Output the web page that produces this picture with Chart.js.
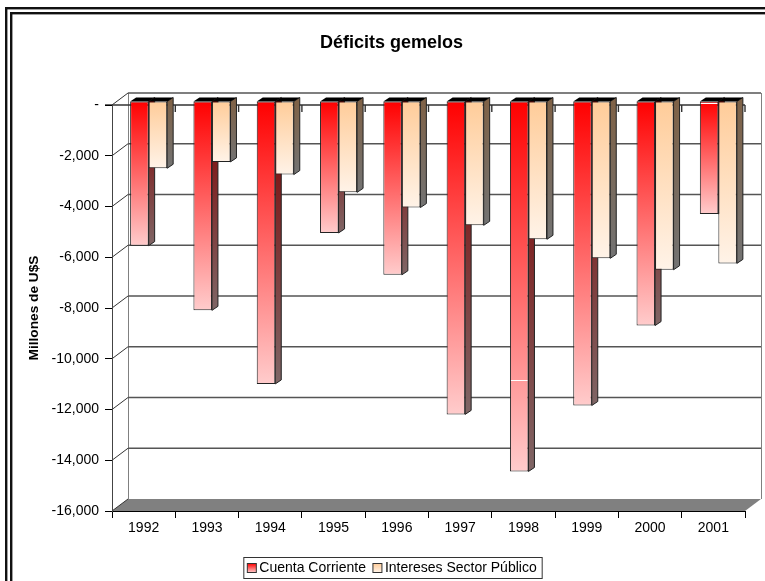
<!DOCTYPE html>
<html>
<head>
<meta charset="utf-8">
<title>Déficits gemelos</title>
<script src="https://cdn.jsdelivr.net/npm/chart.js@4"></script>
<style>
  html, body { margin: 0; padding: 0; background: #fff; }
  canvas { display: block; }
</style>
</head>
<body>
<canvas id="chart" width="765" height="581"></canvas>
<script>
const years = ['1992', '1993', '1994', '1995', '1996', '1997', '1998', '1999', '2000', '2001'];
const cuentaCorriente = [-5700, -8250, -11150, -5200, -6850, -12350, -14600, -12000, -8850, -4450];
const interesesPublico = [-2650, -2400, -2900, -3600, -4200, -4900, -5450, -6200, -6650, -6400];
// thin white scratches on two red bars in the original: [category index, value]
const whiteLines = [[6, -11000], [9, -80]];

const FONT = '"Liberation Sans", Arial, sans-serif';

// 3D look: bars sit a bit inside the box, the box goes back by wall offset
const wall = { dx: 16, dy: 12 };
const barShift = { dx: 5, dy: 4 };
const barDepth = { dx: 6, dy: 4 };

const reds = { top: '#ff0000', bottom: '#ffcccc', sideTop: '#7f0000', sideBottom: '#7f6666' };
const peach = { top: '#ffcc99', bottom: '#fff3e8', sideTop: '#7f6247', sideBottom: '#737373' };

function vGradient(ctx, y0, y1, c0, c1) {
    const g = ctx.createLinearGradient(0, y0, 0, y1);
    g.addColorStop(0, c0);
    g.addColorStop(1, c1);
    return g;
}

function barFill(colors) {
    return (c) => {
        const y = c.chart.scales.y;
        if (!y || c.raw === undefined) return colors.top;
        return vGradient(c.chart.ctx, y.getPixelForValue(0), y.getPixelForValue(c.raw), colors.top, colors.bottom);
    };
}

// side and top faces of one dataset, drawn before its front faces
function drawDepth(chart, index, colors) {
    const { ctx } = chart;
    const { dx, dy } = barDepth;
    chart.getDatasetMeta(index).data.forEach((bar) => {
        const right = bar.x + bar.width / 2;
        const left = bar.x - bar.width / 2;
        ctx.fillStyle = vGradient(ctx, bar.base, bar.y, colors.sideTop, colors.sideBottom);
        ctx.strokeStyle = '#222';
        ctx.lineWidth = 1;
        ctx.beginPath();
        ctx.moveTo(right, bar.base);
        ctx.lineTo(right + dx, bar.base - dy);
        ctx.lineTo(right + dx, bar.y - dy);
        ctx.lineTo(right, bar.y);
        ctx.closePath();
        ctx.fill();
        ctx.stroke();
        ctx.fillStyle = '#000';
        ctx.beginPath();
        ctx.moveTo(left, bar.base);
        ctx.lineTo(right, bar.base);
        ctx.lineTo(right + dx, bar.base - dy);
        ctx.lineTo(left + dx, bar.base - dy);
        ctx.closePath();
        ctx.fill();
    });
}

const threeD = {
    id: 'threeD',
    afterLayout(chart) {
        // title and legend are not centred on the canvas in the original
        chart.titleBlock.left += 6;
        chart.titleBlock.right += 6;
        chart.legend.left += 6.5;
        chart.legend.right += 6.5;
        chart.legend.top += 4;
        chart.legend.bottom += 4;
    },
    beforeDraw(chart) {
        const { ctx, chartArea: a, scales: { x, y } } = chart;
        ctx.save();
        // floor
        ctx.fillStyle = '#808080';
        ctx.beginPath();
        ctx.moveTo(a.left, a.bottom);
        ctx.lineTo(a.left + wall.dx, a.bottom - wall.dy);
        ctx.lineTo(a.right + wall.dx, a.bottom - wall.dy);
        ctx.lineTo(a.right, a.bottom);
        ctx.closePath();
        ctx.fill();
        // back wall edges
        ctx.strokeStyle = '#808080';
        ctx.lineWidth = 1;
        ctx.beginPath();
        ctx.moveTo(a.left + wall.dx + 0.5, a.top - wall.dy);
        ctx.lineTo(a.left + wall.dx + 0.5, a.bottom - wall.dy);
        ctx.moveTo(a.right + wall.dx + 0.5, a.top - wall.dy);
        ctx.lineTo(a.right + wall.dx + 0.5, a.bottom - wall.dy);
        ctx.stroke();
        // gridlines on the back wall and the diagonals to the axis
        y.ticks.forEach((t) => {
            const py = y.getPixelForValue(t.value);
            if (t.value > y.min) {
                ctx.strokeStyle = '#555';
                ctx.lineWidth = 1.4;
                ctx.beginPath();
                ctx.moveTo(a.left + wall.dx, py - wall.dy);
                ctx.lineTo(a.right + wall.dx, py - wall.dy);
                ctx.stroke();
            }
            ctx.strokeStyle = '#333';
            ctx.lineWidth = 1;
            ctx.beginPath();
            ctx.moveTo(a.left, py);
            ctx.lineTo(a.left + wall.dx, py - wall.dy);
            ctx.stroke();
        });
        // category axis at zero, with its ticks pointing down
        const zero = y.getPixelForValue(0);
        ctx.strokeStyle = '#333';
        ctx.lineWidth = 1.4;
        ctx.beginPath();
        ctx.moveTo(a.left - 7, zero);
        ctx.lineTo(a.right, zero);
        years.forEach((_, i) => {
            const px = x.getPixelForValue(i + 0.5);
            ctx.moveTo(px, zero);
            ctx.lineTo(px, zero + 7);
        });
        ctx.stroke();
        ctx.restore();
    },
    // Chart.js paints dataset 1 first, so red depth has to go in before that
    beforeDatasetsDraw(chart) {
        const { ctx } = chart;
        ctx.save();
        ctx.translate(barShift.dx, -barShift.dy);
        drawDepth(chart, 0, reds);
        ctx.restore();
    },
    beforeDatasetDraw(chart, args) {
        const { ctx } = chart;
        ctx.save();
        ctx.translate(barShift.dx, -barShift.dy);
        if (args.index === 1) drawDepth(chart, 1, peach);
    },
    afterDatasetDraw(chart, args) {
        const { ctx } = chart;
        if (args.index === 0) {
            const bars = chart.getDatasetMeta(0).data;
            ctx.strokeStyle = '#fff';
            ctx.lineWidth = 1;
            whiteLines.forEach(([i, v]) => {
                const py = Math.round(chart.scales.y.getPixelForValue(v)) + 0.5;
                ctx.beginPath();
                ctx.moveTo(bars[i].x - bars[i].width / 2 + 1, py);
                ctx.lineTo(bars[i].x + bars[i].width / 2 - 1, py);
                ctx.stroke();
            });
        }
        ctx.restore();
    },
    afterDraw(chart) {
        const { ctx, legend } = chart;
        ctx.save();
        // double frame, runs off the right and bottom of the picture
        ctx.fillStyle = '#111';
        ctx.fillRect(5, 7, 760, 2.4);
        ctx.fillRect(10, 12, 755, 2.4);
        ctx.fillRect(5, 7, 2.4, 574);
        ctx.fillRect(10, 12, 2.4, 569);
        // legend swatches and frame
        const boxes = legend.legendHitBoxes;
        boxes.forEach((b, i) => {
            const colors = i === 0 ? reds : peach;
            const top = b.top + 2.5;
            ctx.fillStyle = vGradient(ctx, top, top + 9, colors.top, colors.bottom);
            ctx.fillRect(b.left, top, 9, 9);
            ctx.strokeStyle = '#333';
            ctx.lineWidth = 1;
            ctx.strokeRect(b.left, top, 9, 9);
        });
        const last = boxes[boxes.length - 1];
        ctx.strokeStyle = '#333';
        ctx.lineWidth = 1;
        ctx.strokeRect(boxes[0].left - 3.5, boxes[0].top - 3.5, last.left + last.width - boxes[0].left + 9, 21);
        ctx.restore();
    }
};

new Chart(document.getElementById('chart').getContext('2d'), {
    type: 'bar',
    data: {
        labels: years,
        datasets: [
            { label: 'Cuenta Corriente', data: cuentaCorriente, clip: false,
              backgroundColor: barFill(reds) },
            { label: 'Intereses Sector Público', data: interesesPublico, clip: false,
              backgroundColor: barFill(peach) }
        ]
    },
    options: {
        responsive: false,
        animation: false,
        categoryPercentage: 0.585,
        barPercentage: 1,
        borderColor: '#222',
        borderWidth: 1,
        borderSkipped: false,
        layout: { padding: { left: 26, right: 20, top: 0, bottom: 0 } },
        plugins: {
            tooltip: { enabled: false },
            title: {
                display: true,
                text: 'Déficits gemelos',
                color: '#000',
                font: { family: FONT, size: 18, weight: 'bold' },
                padding: { top: 32, bottom: 51.4 }
            },
            legend: {
                position: 'bottom',
                labels: {
                    color: '#000',
                    font: { family: FONT, size: 14 },
                    boxWidth: 5,
                    boxHeight: 9,
                    padding: 7,
                    generateLabels(chart) {
                        return chart.data.datasets.map((d, i) => ({
                            text: d.label, datasetIndex: i,
                            fillStyle: 'rgba(0,0,0,0)', strokeStyle: 'rgba(0,0,0,0)', lineWidth: 0
                        }));
                    }
                }
            }
        },
        scales: {
            x: {
                afterFit(s) { s.height = 39; },
                border: { color: '#000', width: 1 },
                grid: { offset: true, drawOnChartArea: false, tickLength: 7, color: '#000' },
                ticks: { color: '#000', font: { family: FONT, size: 14 }, padding: 2, maxRotation: 0 }
            },
            y: {
                min: -16000,
                max: 0,
                afterFit(s) { s.width = 86; },
                border: { color: '#444', width: 1 },
                grid: { drawOnChartArea: false, tickLength: 7, color: '#000' },
                title: {
                    display: true,
                    text: 'Millones de U$S',
                    color: '#000',
                    font: { family: FONT, size: 13.7, weight: 'bold' },
                    padding: 0
                },
                ticks: {
                    stepSize: 2000,
                    color: '#000',
                    padding: 6,
                    font: { family: FONT, size: 14 },
                    callback: (v) => v === 0 ? '-' : v.toLocaleString('en-US')
                }
            }
        }
    },
    plugins: [threeD]
});
</script>
</body>
</html>
